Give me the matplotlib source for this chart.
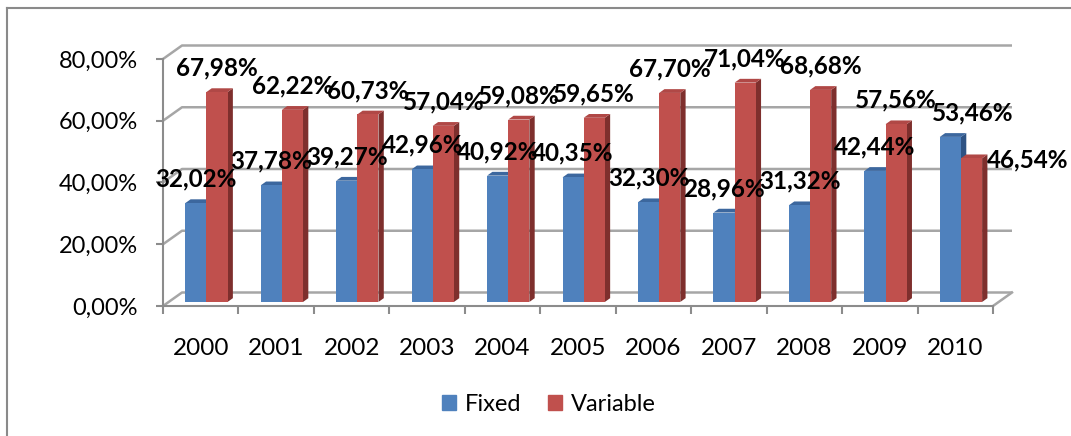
import numpy as np
import matplotlib
matplotlib.use('Agg')
import matplotlib.pyplot as plt
from matplotlib.patches import Polygon, Patch
from matplotlib.lines import Line2D

plt.rcParams['font.family'] = ['Lato', 'DejaVu Sans']

years = ['2000', '2001', '2002', '2003', '2004', '2005',
         '2006', '2007', '2008', '2009', '2010']
fixed = [32.02, 37.78, 39.27, 42.96, 40.92, 40.35, 32.30, 28.96, 31.32, 42.44, 53.46]
variable = [67.98, 62.22, 60.73, 57.04, 59.08, 59.65, 67.70, 71.04, 68.68, 57.56, 46.54]
yticks = [0, 20, 40, 60, 80]

W, H = 1071, 436
fig = plt.figure(figsize=(W / 100, H / 100), dpi=100)

# front panel of the 3D plot in pixels
x0p, x1p, y0p, y1p = 163, 993, 306, 59
ax = fig.add_axes([x0p / W, 1 - y0p / H, (x1p - x0p) / W, (y0p - y1p) / H])
n = len(years)
ax.set_xlim(0, n)
ax.set_ylim(0, 80)

px_x = (x1p - x0p) / n
px_y = (y0p - y1p) / 80.0
DX = 19 / px_x      # depth offset in data units
DY = 13.5 / px_y

grid_col = '#a6a6a6'
for v in yticks:
    ax.plot([0, DX, n + DX], [v, v + DY, v + DY], color=grid_col, lw=1.8,
            clip_on=False, zorder=1, solid_capstyle='butt')
ax.plot([n, n + DX], [0, DY], color=grid_col, lw=1.8, clip_on=False, zorder=1)

for s in ['top', 'right']:
    ax.spines[s].set_visible(False)
for s in ['left', 'bottom']:
    ax.spines[s].set_color('#8c8c8c')
    ax.spines[s].set_linewidth(1.5)
ax.set_facecolor('none')

ax.set_yticks(yticks)
ax.set_yticklabels([('%.2f%%' % v).replace('.', ',') for v in yticks])
ax.set_xticks(np.arange(n + 1))
ax.set_xticklabels([])
ax.set_xticks(np.arange(n) + 0.5, minor=True)
ax.set_xticklabels(years, minor=True)
ax.tick_params(axis='y', length=5, width=1.5, color='#8c8c8c', pad=13, labelsize=17)
ax.tick_params(axis='x', which='major', length=6, width=1.5, color='#8c8c8c', direction='out')
ax.tick_params(axis='x', which='minor', length=0, pad=23, labelsize=17.5)

f0 = 0.3     # depth position of bar front
d = 0.28     # bar depth
bw = 0.28
series = [(fixed, 0.22, '#4f81bd', '#3c679e', '#2e5384'),
          (variable, 0.50, '#c0504d', '#b04846', '#7e2f2d')]

for vals, off, c_front, c_top, c_side in series:
    for i, v in enumerate(vals):
        xa = i + off + f0 * DX
        xb = xa + bw
        yb = f0 * DY
        yt = v + f0 * DY
        side = Polygon([(xb, yb), (xb + d * DX, yb + d * DY),
                        (xb + d * DX, yt + d * DY), (xb, yt)],
                       closed=True, fc=c_side, ec='none', zorder=3, clip_on=False)
        top = Polygon([(xa, yt), (xa + d * DX, yt + d * DY),
                       (xb + d * DX, yt + d * DY), (xb, yt)],
                      closed=True, fc=c_top, ec='none', zorder=3, clip_on=False)
        ax.add_patch(side)
        ax.add_patch(top)
        ax.bar(xa, v, width=bw, bottom=yb, align='edge', color=c_front,
               zorder=3, clip_on=False)

# labels that Excel moved aside in the last group
moved = {(0, n - 1): (22, 24), (1, n - 1): (56, -2)}
for k, (vals, off, *_) in enumerate(series):
    for i, v in enumerate(vals):
        xc = i + off + f0 * DX + bw / 2
        ax.annotate(('%.2f%%' % v).replace('.', ','), (xc, v + f0 * DY),
                    xytext=moved.get((k, i), (0, 24)), textcoords='offset pixels',
                    ha='center', va='center', fontsize=17.5, fontweight='bold',
                    zorder=5, annotation_clip=False)

handles = [Patch(color='#4f81bd', label='Fixed'),
           Patch(color='#c0504d', label='Variable')]
fig.legend(handles=handles, loc='center', bbox_to_anchor=(549 / W, 1 - 404 / H),
           ncol=2, frameon=False, fontsize=17, handlelength=0.6, handleheight=0.6,
           handletextpad=0.4, columnspacing=1.1)

# chart border (partly outside the picture)
fig.add_artist(Line2D([7 / W, 1], [1 - 8 / H, 1 - 8 / H], color='#8a8a8a', lw=1.5))
fig.add_artist(Line2D([7 / W, 7 / W], [0, 1 - 8 / H], color='#8a8a8a', lw=1.5))

fig.savefig('out.png', dpi=100)
